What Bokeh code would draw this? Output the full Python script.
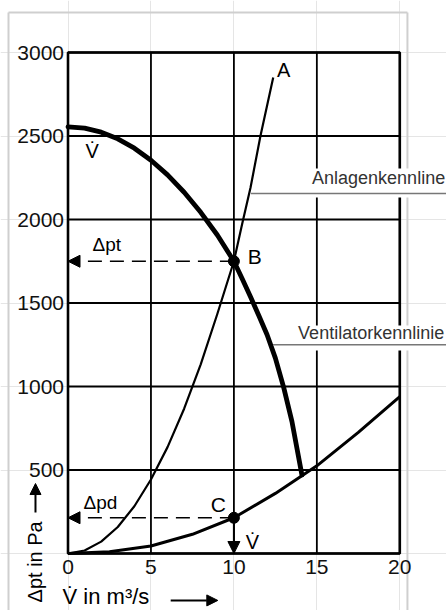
from bokeh.plotting import figure
from bokeh.models import Range1d, Label, Arrow, NormalHead, BoxAnnotation
from bokeh.core.properties import value
from bokeh.embed import file_html
from bokeh.resources import INLINE
import math

# ---- data ----
fan_x = [0, 1, 2, 3, 4, 5, 6, 7, 8, 9, 10, 10.5, 11, 11.5, 12, 12.5, 13, 13.5, 14.1]
fan_y = [2555, 2547, 2523, 2483, 2427, 2355, 2267, 2163, 2043, 1907, 1750, 1645, 1537, 1425, 1310, 1170, 995, 790, 470]

sys_x = [0, 1, 2, 3, 4, 5, 6, 7, 8, 9, 10, 10.5, 11, 11.6, 12.37]
sys_y = [0, 18, 71, 159, 283, 443, 637, 867, 1133, 1434, 1750, 1975, 2190, 2500, 2850]

dyn_x = [0, 2.5, 5, 7.5, 10, 12.5, 15, 17.5, 20]
dyn_y = [0, 11, 45, 115, 214, 360, 525, 725, 940]

pt_B = (10, 1750)
pt_C = (10, 214)

x_ticks = [0, 5, 10, 15, 20]
x_tick_labels = ["0", "5", "10", "15", "20"]
y_ticks = [500, 1000, 1500, 2000, 2500, 3000]
y_tick_labels = ["500", "1000", "1500", "2000", "2500", "3000"]
y_grid = [0, 500, 1000, 1500, 2000, 2500, 3000]

X0, X1 = 0, 20
Y0, Y1 = 0, 3000

FONT = "Liberation Sans"

p = figure(width=446, height=610, x_range=Range1d(-4.069, 22.815), y_range=Range1d(-341.3, 3311.4),
           output_backend="svg", toolbar_location=None,
           x_axis_location=None, y_axis_location=None,
           min_border=0, min_border_left=0, min_border_right=0, min_border_top=0, min_border_bottom=0)
p.background_fill_color = "white"
p.border_fill_color = "white"
p.outline_line_color = None

# gray outer frame of the scanned figure
gray = "#cfcfcf"
for (xa, ya, xb, yb) in [(-3.587, 3239.5, -3.587, -400), (-3.587, 3239.5, 20.46, 3239.5),
                         (20.46, 3239.5, 20.46, -400)]:
    p.add_layout(Arrow(end=None, x_start=xa, y_start=ya, x_end=xb, y_end=yb,
                       line_color=gray, line_width=2, level="underlay"))

# grid and frame
p.segment(x0=x_ticks, y0=Y0, x1=x_ticks, y1=Y1, line_color="black", line_width=1.8)
p.segment(x0=X0, y0=y_grid, x1=X1, y1=y_grid, line_color="black", line_width=1.8)
p.quad(left=[X0], right=[X1], bottom=[Y0], top=[Y1], fill_color=None, line_color="black", line_width=2.6)

# tick labels
p.text(x=[X0] * len(y_ticks), y=y_ticks, text=y_tick_labels, x_offset=-4,
       text_align="right", text_baseline="middle", text_font=value(FONT),
       text_font_size="21px", text_color="#111111")
p.text(x=x_ticks, y=[Y0] * len(x_ticks), text=x_tick_labels, y_offset=6,
       text_align="center", text_baseline="top", text_font=value(FONT),
       text_font_size="21px", text_color="#111111")

# curves
p.line(sys_x, sys_y, line_color="black", line_width=2.2, line_join="round")
p.line(dyn_x, dyn_y, line_color="black", line_width=3, line_join="round")
p.line(fan_x, fan_y, line_color="black", line_width=4.8, line_join="round", line_cap="round")
p.scatter([pt_B[0], pt_C[0]], [pt_B[1], pt_C[1]], size=11, color="black")

# white boxes behind annotation texts
p.add_layout(BoxAnnotation(left=14.4, right=22.815, bottom=2132, top=2305,
                           fill_color="white", fill_alpha=1, line_color=None))
p.add_layout(BoxAnnotation(left=13.56, right=22.815, bottom=1216, top=1365,
                           fill_color="white", fill_alpha=1, line_color=None))

def head(sz=12):
    return NormalHead(size=sz, fill_color="black", line_color="black")

# dashed arrows and the flow arrow
p.add_layout(Arrow(end=head(), x_start=pt_B[0], y_start=pt_B[1], x_end=X0, y_end=pt_B[1],
                   line_dash="14 8", line_width=1.6, line_color="black"))
p.add_layout(Arrow(end=head(), x_start=pt_C[0], y_start=pt_C[1], x_end=X0, y_end=pt_C[1],
                   line_dash="14 8", line_width=1.6, line_color="black"))
p.add_layout(Arrow(end=head(), x_start=pt_C[0], y_start=pt_C[1], x_end=pt_C[0], y_end=Y0,
                   line_width=2, line_color="black"))

# leader lines
p.add_layout(Arrow(end=None, x_start=11.03, y_start=2156, x_end=22.815, y_end=2156,
                   line_color="#777777", line_width=1.5))
p.add_layout(Arrow(end=None, x_start=12.36, y_start=1250, x_end=22.815, y_end=1250,
                   line_color="#777777", line_width=1.5))

def lab(x, y, t, size="20px", color="black", angle=0.0, align="left"):
    p.add_layout(Label(x=x, y=y, text=t, text_font=FONT, text_font_size=size,
                       text_color=color, angle=angle, text_align=align,
                       text_baseline="alphabetic"))

lab(1.06, 2413, "V\u0307")
lab(12.6, 2898, "A")
lab(10.84, 1778, "B", "21px")
lab(8.6, 293, "C", "21px")
lab(10.72, 66, "V\u0307")
lab(1.48, 1850, "\u0394pt", "19px")
lab(0.94, 305, "\u0394pd", "19px")
lab(14.71, 2246, "Anlagenkennline", "18px", "#333333")
lab(13.87, 1323, "Ventilatorkennlinie", "18px", "#333333")
lab(-0.33, -257, "V\u0307 in m\u00b3/s", "22px")
lab(-1.96, -293, "\u0394pt in Pa", "20px", angle=math.pi / 2)

# axis arrows
p.add_layout(Arrow(end=head(11), x_start=6.19, y_start=-281, x_end=9.03, y_end=-281,
                   line_width=2, line_color="black"))
p.add_layout(Arrow(end=head(11), x_start=-1.96, y_start=245, x_end=-1.96, y_end=419,
                   line_width=2, line_color="black"))

open("out.html", "w").write(file_html(p, INLINE))
